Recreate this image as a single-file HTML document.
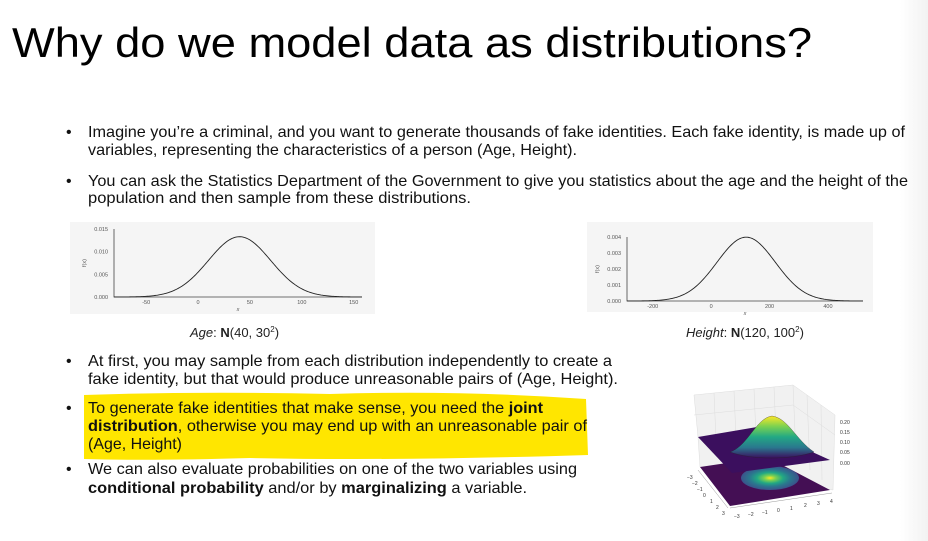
<!DOCTYPE html>
<html><head><meta charset="utf-8">
<style>
html,body{margin:0;padding:0;background:#fff;}
body{width:928px;height:541px;overflow:hidden;position:relative;font-family:"Liberation Sans",sans-serif;}
svg{position:absolute;left:0;top:0;}
</style></head>
<body>
<svg width="928" height="541" viewBox="0 0 928 541">
  <defs>
    <linearGradient id="edge" x1="0" x2="1" y1="0" y2="0">
      <stop offset="0" stop-color="#fff"/><stop offset="1" stop-color="#f2f2f2"/>
    </linearGradient>
    <linearGradient id="bump" x1="0" x2="0" y1="0" y2="1">
      <stop offset="0" stop-color="#fde725"/><stop offset="0.25" stop-color="#7ad151"/>
      <stop offset="0.5" stop-color="#22a884"/><stop offset="0.75" stop-color="#2a788e"/>
      <stop offset="1" stop-color="#3b0f5e"/>
    </linearGradient>
    <radialGradient id="contour">
      <stop offset="0" stop-color="#fde725"/><stop offset="0.2" stop-color="#7ad151"/>
      <stop offset="0.45" stop-color="#22a884"/><stop offset="0.7" stop-color="#2a788e"/>
      <stop offset="1" stop-color="#3b528b"/>
    </radialGradient>
  </defs>
  <rect x="900" y="0" width="28" height="541" fill="url(#edge)"/>

  <text x="12" y="57" font-size="42" textLength="800" lengthAdjust="spacingAndGlyphs" fill="#000">Why do we model data as distributions?</text>

  <path d="M84,395 Q200,391 330,394 Q460,390 586,399 L588,455 Q400,461 250,458 Q150,461 84,459 Z" fill="#ffe600"/>

  <g font-size="16" fill="#111">
    <text x="66" y="137">•</text><text x="66" y="186">•</text><text x="66" y="366">•</text><text x="66" y="413">•</text><text x="66" y="474">•</text>
    <text x="88" y="137" textLength="817" lengthAdjust="spacingAndGlyphs">Imagine you’re a criminal, and you want to generate thousands of fake identities. Each fake identity, is made up of</text>
    <text x="88" y="155" textLength="489" lengthAdjust="spacingAndGlyphs">variables, representing the characteristics of a person (Age, Height).</text>
    <text x="88" y="186" textLength="820" lengthAdjust="spacingAndGlyphs">You can ask the Statistics Department of the Government to give you statistics about the age and the height of the</text>
    <text x="88" y="203" textLength="383" lengthAdjust="spacingAndGlyphs">population and then sample from these distributions.</text>
    <text x="88" y="366" textLength="524" lengthAdjust="spacingAndGlyphs">At first, you may sample from each distribution independently to create a</text>
    <text x="88" y="384" textLength="530" lengthAdjust="spacingAndGlyphs">fake identity, but that would produce unreasonable pairs of (Age, Height).</text>
    <text x="88" y="413" textLength="455" lengthAdjust="spacingAndGlyphs">To generate fake identities that make sense, you need the <tspan font-weight="bold">joint</tspan></text>
    <text x="88" y="431" textLength="499" lengthAdjust="spacingAndGlyphs"><tspan font-weight="bold">distribution</tspan>, otherwise you may end up with an unreasonable pair of</text>
    <text x="88" y="449" textLength="94" lengthAdjust="spacingAndGlyphs">(Age, Height)</text>
    <text x="88" y="474" textLength="489" lengthAdjust="spacingAndGlyphs">We can also evaluate probabilities on one of the two variables using</text>
    <text x="88" y="493" textLength="439" lengthAdjust="spacingAndGlyphs"><tspan font-weight="bold">conditional probability</tspan> and/or by <tspan font-weight="bold">marginalizing</tspan> a variable.</text>
  </g>

  <rect x="70" y="222" width="305" height="92" fill="#f5f5f5"/>
  <rect x="587" y="222" width="286" height="90" fill="#f5f5f5"/>
  <g id="age-chart"></g>
  <g id="height-chart"></g>

  <text x="190" y="337" font-size="13" fill="#222"><tspan font-style="italic">Age</tspan>: <tspan font-weight="bold">N</tspan>(40, 30<tspan font-size="8" dy="-5">2</tspan><tspan dy="5">)</tspan></text>
  <text x="686" y="337" font-size="13" fill="#222"><tspan font-style="italic">Height</tspan>: <tspan font-weight="bold">N</tspan>(120, 100<tspan font-size="8" dy="-5">2</tspan><tspan dy="5">)</tspan></text>

  <g>
    <polygon points="694,395 793,385 835,415 833,490 700,467 698,437" fill="#f1f1f1" stroke="#ddd" stroke-width="0.5"/>
    <g stroke="#ddd" stroke-width="0.5">
      <line x1="714" y1="393" x2="716" y2="440"/><line x1="734" y1="391" x2="736" y2="438"/>
      <line x1="754" y1="389" x2="756" y2="436"/><line x1="774" y1="387" x2="776" y2="434"/>
      <line x1="793" y1="385" x2="795" y2="432"/><line x1="807" y1="395" x2="810" y2="470"/>
      <line x1="821" y1="405" x2="822" y2="480"/>
      <line x1="694" y1="415" x2="793" y2="405"/><line x1="793" y1="405" x2="835" y2="435"/>
    </g>
    <polygon points="700,467 767,457 830,490 730,506" fill="#440f54"/>
    <ellipse cx="770" cy="478" rx="29" ry="12" fill="url(#contour)"/>
    <polygon points="698,437 757,427 830,460 732,473" fill="#3b0f5e"/>
    <path d="M730,452 C748,446 756,418 772,416 C788,418 796,440 814,452 C790,460 752,460 730,452 Z" fill="url(#bump)" stroke="#222" stroke-width="0.3"/>
    <g font-size="5" fill="#333">
      <text x="840" y="424">0.20</text><text x="840" y="434">0.15</text><text x="840" y="444">0.10</text>
      <text x="840" y="454">0.05</text><text x="840" y="465">0.00</text>
      <text x="687" y="479">−3</text><text x="692" y="485">−2</text><text x="697" y="491">−1</text>
      <text x="703" y="497">0</text><text x="710" y="503">1</text><text x="716" y="509">2</text><text x="722" y="515">3</text>
      <text x="734" y="518">−3</text><text x="748" y="516">−2</text><text x="762" y="514">−1</text>
      <text x="777" y="512">0</text><text x="790" y="510">1</text><text x="804" y="507">2</text>
      <text x="817" y="505">3</text><text x="830" y="503">4</text>
    </g>
    <line x1="730" y1="508" x2="832" y2="493" stroke="#999" stroke-width="0.5"/>
    <line x1="698" y1="470" x2="728" y2="508" stroke="#999" stroke-width="0.5"/>
  </g>
</svg>
<script>
// Chart data (normal distribution parameters and axis ticks)
const ageMean = [40];
const ageSd = [30];
const ageXTicks = [-50, 0, 50, 100, 150];
const ageYTicks = [0.000, 0.005, 0.010, 0.015];
const heightMean = [120];
const heightSd = [100];
const heightXTicks = [-200, 0, 200, 400];
const heightYTicks = [0.000, 0.001, 0.002, 0.003, 0.004];

const NS = 'http://www.w3.org/2000/svg';
function mk(tag, attrs, parent){const e=document.createElementNS(NS,tag);for(const k in attrs)e.setAttribute(k,attrs[k]);parent.appendChild(e);return e;}

function drawChart(gid, mean, sd, xTicks, yTicks, box, xdom, ydom){
  const g=document.getElementById(gid);
  const sx=v=>box.x0+(v-xdom[0])/(xdom[1]-xdom[0])*(box.x1-box.x0);
  const sy=v=>box.y1-(v-ydom[0])/(ydom[1]-ydom[0])*(box.y1-box.y0);
  const ax=mk('path',{d:`M${box.x0},${box.y0}V${box.y1}H${box.x1}`,fill:'none',stroke:'#444','stroke-width':0.8},g);
  
  
  yTicks.forEach(t=>{
    const tx=mk('text',{x:box.x0-6,y:sy(t)+2,'font-size':5.5,'text-anchor':'end',fill:'#555'},g);
    tx.textContent=t.toFixed(3);
    
    
  });
  xTicks.forEach(t=>{
    const tx=mk('text',{x:sx(t),y:box.y1+7,'font-size':5.5,'text-anchor':'middle',fill:'#555'},g);
    tx.textContent=t;
    
    
  });
  const yl=mk('text',{x:0,y:0,'font-size':5.5,'text-anchor':'middle',fill:'#555',transform:`translate(${box.x0-28},${(box.y0+box.y1)/2}) rotate(-90)`},g);
  yl.textContent='f(x)';
  
  
  const xl=mk('text',{x:(box.x0+box.x1)/2,y:box.y1+14,'font-size':5.5,'font-style':'italic','text-anchor':'middle',fill:'#555'},g);
  xl.textContent='x';
  
  
  let d='';
  for(let i=0;i<=200;i++){
    const v=xdom[0]+(xdom[1]-xdom[0])*i/200;
    const p=Math.exp(-0.5*Math.pow((v-mean[0])/sd[0],2))/(sd[0]*Math.sqrt(2*Math.PI));
    d+=(i?'L':'M')+sx(v).toFixed(2)+','+sy(p).toFixed(2);
  }
  const c=mk('path',{d:d,fill:'none',stroke:'#222','stroke-width':0.9},g);
  
  
}
drawChart('age-chart', ageMean, ageSd, ageXTicks, ageYTicks, {x0:114,x1:362,y0:229,y1:297}, [-81,158], [0,0.015]);
drawChart('height-chart', heightMean, heightSd, heightXTicks, heightYTicks, {x0:627,x1:863,y0:237,y1:301}, [-288,520], [0,0.004]);
</script>
</body></html>
